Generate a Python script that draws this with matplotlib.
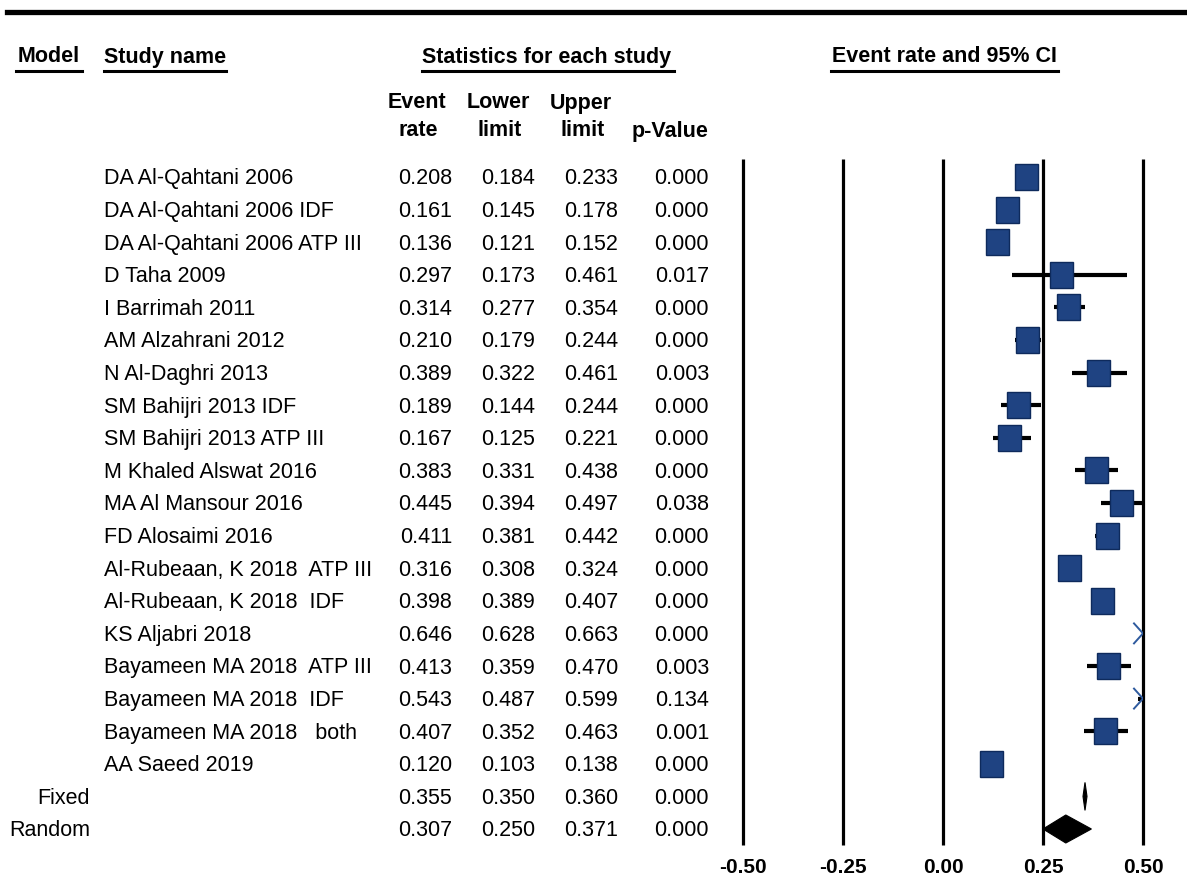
import matplotlib
matplotlib.use("Agg")
import matplotlib.pyplot as plt
from matplotlib.patches import Rectangle, Polygon
from matplotlib.lines import Line2D
from matplotlib import transforms

plt.rcParams['font.family'] = ['Liberation Sans', 'DejaVu Sans']

# ---- data -------------------------------------------------------------
studies = [
    "DA Al-Qahtani 2006",
    "DA Al-Qahtani 2006 IDF",
    "DA Al-Qahtani 2006 ATP III",
    "D Taha 2009",
    "I Barrimah 2011",
    "AM Alzahrani 2012",
    "N Al-Daghri 2013",
    "SM Bahijri 2013 IDF",
    "SM Bahijri 2013 ATP III",
    "M Khaled Alswat 2016",
    "MA Al Mansour 2016",
    "FD Alosaimi 2016",
    "Al-Rubeaan, K 2018  ATP III",
    "Al-Rubeaan, K 2018  IDF",
    "KS Aljabri 2018",
    "Bayameen MA 2018  ATP III",
    "Bayameen MA 2018  IDF",
    "Bayameen MA 2018   both",
    "AA Saeed 2019",
]
event_rate = [0.208, 0.161, 0.136, 0.297, 0.314, 0.210, 0.389, 0.189, 0.167,
              0.383, 0.445, 0.411, 0.316, 0.398, 0.646, 0.413, 0.543, 0.407, 0.120]
lower = [0.184, 0.145, 0.121, 0.173, 0.277, 0.179, 0.322, 0.144, 0.125,
         0.331, 0.394, 0.381, 0.308, 0.389, 0.628, 0.359, 0.487, 0.352, 0.103]
upper = [0.233, 0.178, 0.152, 0.461, 0.354, 0.244, 0.461, 0.244, 0.221,
         0.438, 0.497, 0.442, 0.324, 0.407, 0.663, 0.470, 0.599, 0.463, 0.138]
p_value = [0.000, 0.000, 0.000, 0.017, 0.000, 0.000, 0.003, 0.000, 0.000,
           0.000, 0.038, 0.000, 0.000, 0.000, 0.000, 0.003, 0.134, 0.001, 0.000]

models = ["Fixed", "Random"]
model_rate = [0.355, 0.307]
model_lower = [0.350, 0.250]
model_upper = [0.360, 0.371]
model_p = [0.000, 0.000]

axis_ticks = [-0.50, -0.25, 0.00, 0.25, 0.50]
tick_labels = ["-0.50", "-0.25", "0.00", "0.25", "0.50"]

# ---- layout -----------------------------------------------------------
W, H = 1187, 888
fig = plt.figure(figsize=(W / 100, H / 100), dpi=100)

def fx(px):
    return px / W

def fy(py):
    return 1 - py / H

ROW0, ROWSTEP = 177, 32.6          # pixel centre of first row, row spacing
Y_TOP, Y_BOT = 150, 850            # vertical extent of the forest panel
X_LO, X_HI = 743, 1143             # pixel position of -0.5 and 0.5

ax = fig.add_axes([fx(X_LO), fy(Y_BOT), fx(X_HI) - fx(X_LO), fy(Y_TOP) - fy(Y_BOT)])
ax.set_xlim(axis_ticks[0], axis_ticks[-1])
ax.set_ylim((Y_BOT - ROW0) / ROWSTEP, (Y_TOP - ROW0) / ROWSTEP)
ax.axis("off")

px_x = (axis_ticks[-1] - axis_ticks[0]) / (X_HI - X_LO)   # data units per pixel (x)
px_y = 1 / ROWSTEP                                           # data units per pixel (y)

n = len(studies)
rows = list(range(n))
model_rows = [n, n + 1]

# vertical reference lines
ax.vlines(axis_ticks, (159 - ROW0) * px_y, (845 - ROW0) * px_y,
          colors="black", lw=2.3, zorder=1, clip_on=False)

# tick labels
for t, lab in zip(axis_ticks, tick_labels):
    ax.text(t, (867 - ROW0) * px_y, lab, ha="center", va="center",
            fontsize=15, fontweight="bold", clip_on=False)

# confidence interval bars (clipped to the displayed range)
lo_lim, hi_lim = axis_ticks[0], axis_ticks[-1]
for r, lo, hi in zip(rows, lower, upper):
    if hi < lo_lim or lo > hi_lim:
        continue
    ax.hlines(r, max(lo, lo_lim), min(hi, hi_lim), colors="black", lw=3.0, zorder=2)

# point estimates
sq_w, sq_h = 23 * px_x, 26 * px_y
box_face, box_edge = "#1F4382", "#0E2A5C"
for r, est in zip(rows, event_rate):
    if est > hi_lim:
        # off-scale estimate: open chevron at the right edge
        cw, ch = 9 * px_x, 10 * px_y
        ax.plot([hi_lim - cw, hi_lim, hi_lim - cw], [r - ch, r, r + ch],
                color="#2E5A9E", lw=1.4, zorder=4, solid_joinstyle="miter")
        continue
    ax.add_patch(Rectangle((est - sq_w / 2, r - sq_h / 2), sq_w, sq_h,
                           facecolor=box_face, edgecolor=box_edge, lw=1.0, zorder=3))

# summary diamonds
dh = 14 * px_y
for r, est, lo, hi in zip(model_rows, model_rate, model_lower, model_upper):
    ax.add_patch(Polygon([(lo, r), (est, r - dh), (hi, r), (est, r + dh)],
                         closed=True, facecolor="black", edgecolor="black",
                         lw=0.8, zorder=3))

# ---- table ------------------------------------------------------------
tr = transforms.blended_transform_factory(fig.transFigure, ax.transData)
base = 7.5 * px_y     # baseline offset below row centre
FS = 15.5

col_right = [452, 535, 618, 709]
for r, name, vals in zip(rows, studies, zip(event_rate, lower, upper, p_value)):
    ax.text(fx(104), r + base, name, transform=tr, ha="left", va="baseline",
            fontsize=FS, clip_on=False)
    for cx, v in zip(col_right, vals):
        ax.text(fx(cx), r + base, f"{v:.3f}", transform=tr, ha="right",
                va="baseline", fontsize=FS, clip_on=False)

for r, name, vals in zip(model_rows, models,
                         zip(model_rate, model_lower, model_upper, model_p)):
    ax.text(fx(90), r + base, name, transform=tr, ha="right", va="baseline",
            fontsize=FS, clip_on=False)
    for cx, v in zip(col_right, vals):
        ax.text(fx(cx), r + base, f"{v:.3f}", transform=tr, ha="right",
                va="baseline", fontsize=FS, clip_on=False)

# ---- headers ----------------------------------------------------------
HFS = 15.5
fig.add_artist(Line2D([fx(7), fx(W)], [fy(12), fy(12)], color="black", lw=3.8))

def header(text, x, y, ha, ul=None):
    fig.text(fx(x), fy(y), text, ha=ha, va="center", fontsize=HFS, fontweight="bold")
    if ul is not None:
        fig.add_artist(Line2D([fx(ul[0]), fx(ul[1])], [fy(71), fy(71)],
                              color="black", lw=2.2))

header("Model", 18, 57, "left", (16, 82))
header("Study name", 104, 57, "left", (104, 226))
header("Statistics for each study", 547, 57, "center", (422, 674))
header("Event rate and 95% CI", 944, 57, "center", (831, 1058))

for txt, x, y in [("Event", 417, 103), ("rate", 418, 131),
                  ("Lower", 498, 103), ("limit", 500, 131),
                  ("Upper", 581, 103), ("limit", 583, 131),
                  ("p-Value", 670, 131)]:
    fig.text(fx(x), fy(y), txt, ha="center", va="center", fontsize=HFS,
             fontweight="bold")

fig.savefig("out.png", dpi=100, facecolor="white")
